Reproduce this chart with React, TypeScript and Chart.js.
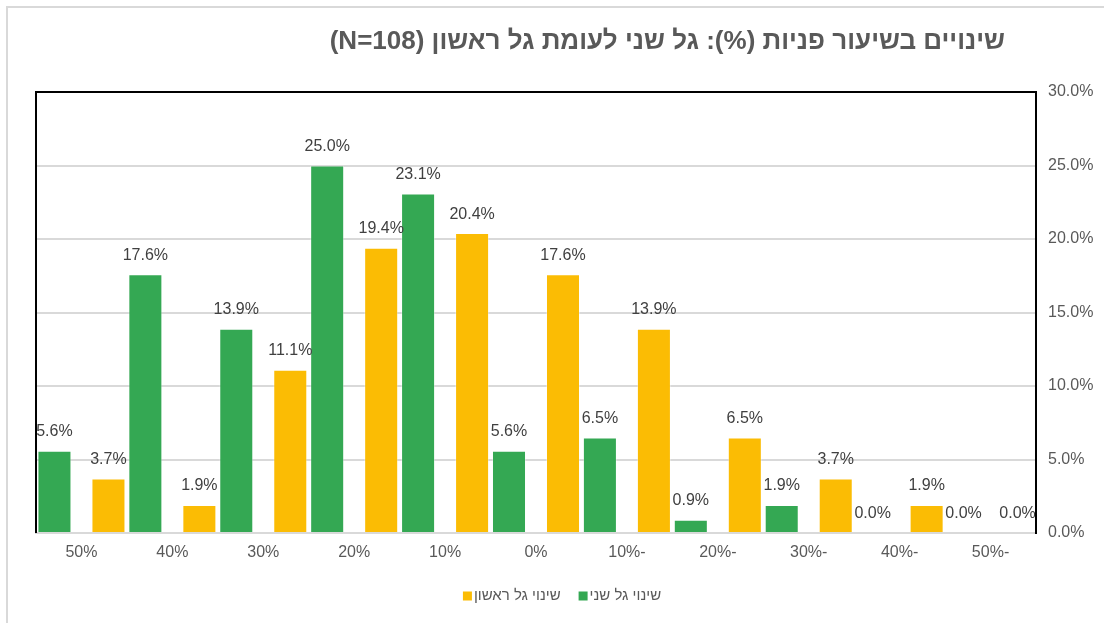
import React, { useEffect, useRef } from 'react';
import { Chart, registerables } from 'chart.js';

Chart.register(...registerables);

const chartTitle = 'שינויים בשיעור פניות (%): גל שני לעומת גל ראשון (N=108)';
const categories = ['50%', '40%', '30%', '20%', '10%', '0%', '10%-', '20%-', '30%-', '40%-', '50%-'];
const secondWaveName = 'שינוי גל שני';
const firstWaveName = 'שינוי גל ראשון';
const secondWave = [5.6, 17.6, 13.9, 25.0, 23.1, 5.6, 6.5, 0.9, 1.9, 0.0, 0.0];
const firstWave = [3.7, 1.9, 11.1, 19.4, 20.4, 17.6, 13.9, 6.5, 3.7, 1.9, 0.0];
const yMin = 0;
const yMax = 30;
const yStep = 5;

const FONT = "'Liberation Sans', Arial, sans-serif";
const TEXT = '#595959';
const LABEL = '#404040';
const GRID = '#d9d9d9';

const fmt = (v: number) => v.toFixed(1) + '%';

const decorPlugin = {
  id: 'decor',
  afterDatasetsDraw(chart: any) {
    const ctx = chart.ctx;
    const area = chart.chartArea;
    ctx.save();
    (ctx as any).direction = 'ltr';
    ctx.font = `16px ${FONT}`;
    ctx.fillStyle = LABEL;
    ctx.textAlign = 'center';
    ctx.textBaseline = 'middle';
    chart.data.datasets.forEach((ds: any, di: number) => {
      const meta = chart.getDatasetMeta(di);
      meta.data.forEach((bar: any, i: number) => {
        const v = ds.data[i];
        ctx.fillText(fmt(v), bar.x, bar.y - 19);
      });
    });
    ctx.strokeStyle = '#000';
    ctx.lineWidth = 2;
    ctx.beginPath();
    ctx.moveTo(area.left, area.bottom);
    ctx.lineTo(area.left, area.top);
    ctx.lineTo(area.right, area.top);
    ctx.lineTo(area.right, area.bottom);
    ctx.stroke();
    ctx.restore();
  },
  afterDraw(chart: any) {
    const ctx = chart.ctx;
    const area = chart.chartArea;
    ctx.save();
    // Title
    ctx.font = `bold 26px ${FONT}`;
    ctx.fillStyle = TEXT;
    (ctx as any).direction = 'rtl';
    ctx.textAlign = 'right';
    ctx.textBaseline = 'middle';
    ctx.fillText(chartTitle, area.right - 31, 34);

    // Legend (items ordered left to right: last dataset first)
    ctx.font = `15px ${FONT}`;
    ctx.textAlign = 'left';
    const box = 9;
    const boxGap = 2;
    const itemGap = 18;
    const items = chart.data.datasets
      .map((ds: any) => ({ text: ds.label, color: ds.backgroundColor }))
      .reverse();
    const widths = items.map((it: any) => box + boxGap + ctx.measureText(it.text).width);
    const total = widths.reduce((a: number, b: number) => a + b, 0) + itemGap * (items.length - 1);
    let x = chart.width / 2 + 6 - total / 2;
    const y = 588;
    items.forEach((it: any, i: number) => {
      ctx.fillStyle = it.color;
      ctx.fillRect(x, y - box / 2, box, box);
      ctx.fillStyle = TEXT;
      ctx.fillText(it.text, x + box + boxGap, y);
      x += widths[i] + itemGap;
    });
    ctx.restore();
  },
};

export default function App() {
  const ref = useRef<HTMLCanvasElement | null>(null);
  useEffect(() => {
    if (!ref.current) return;
    const chart = new Chart(ref.current, {
      type: 'bar',
      data: {
        labels: categories,
        datasets: [
          {
            label: secondWaveName,
            data: secondWave,
            backgroundColor: '#34A853',
            borderColor: 'rgba(255,255,255,0.35)',
            borderWidth: 1,
          },
          {
            label: firstWaveName,
            data: firstWave,
            backgroundColor: '#FBBC04',
            borderColor: 'rgba(255,255,255,0.35)',
            borderWidth: 1,
          },
        ],
      },
      options: {
        animation: false,
        responsive: true,
        maintainAspectRatio: false,
        datasets: {
          bar: {
            categoryPercentage: 1.188,
            barPercentage: 0.63,
          },
        },
        layout: { padding: { left: 28, top: 84, right: 0, bottom: 44 } },
        plugins: {
          title: { display: false },
          tooltip: { enabled: false },
          legend: { display: false },
        },
        scales: {
          x: {
            grid: { display: false, drawTicks: false },
            border: { display: true, color: GRID, width: 2 },
            ticks: { color: TEXT, font: { size: 16, family: FONT }, padding: 10, maxRotation: 0 },
            afterFit: (s: any) => {
              s.height = 46;
            },
          },
          y: {
            position: 'right',
            min: yMin,
            max: yMax,
            grid: { color: GRID, lineWidth: 2, drawTicks: false },
            border: { display: true, color: '#000', width: 2 },
            ticks: {
              stepSize: yStep,
              color: TEXT,
              font: { size: 16, family: FONT },
              padding: 12,
              callback: (v: any) => fmt(Number(v)),
            },
            afterFit: (s: any) => {
              s.width = 68;
            },
          },
        },
      },
      plugins: [decorPlugin],
    });
    return () => chart.destroy();
  }, []);

  return (
    <div
      style={{
        position: 'fixed',
        left: 6,
        top: 6,
        width: 1200,
        height: 700,
        border: `2px solid ${GRID}`,
        background: '#fff',
      }}
    >
      <div style={{ position: 'relative', width: 1096, height: 615 }}>
        <canvas ref={ref} />
      </div>
    </div>
  );
}
